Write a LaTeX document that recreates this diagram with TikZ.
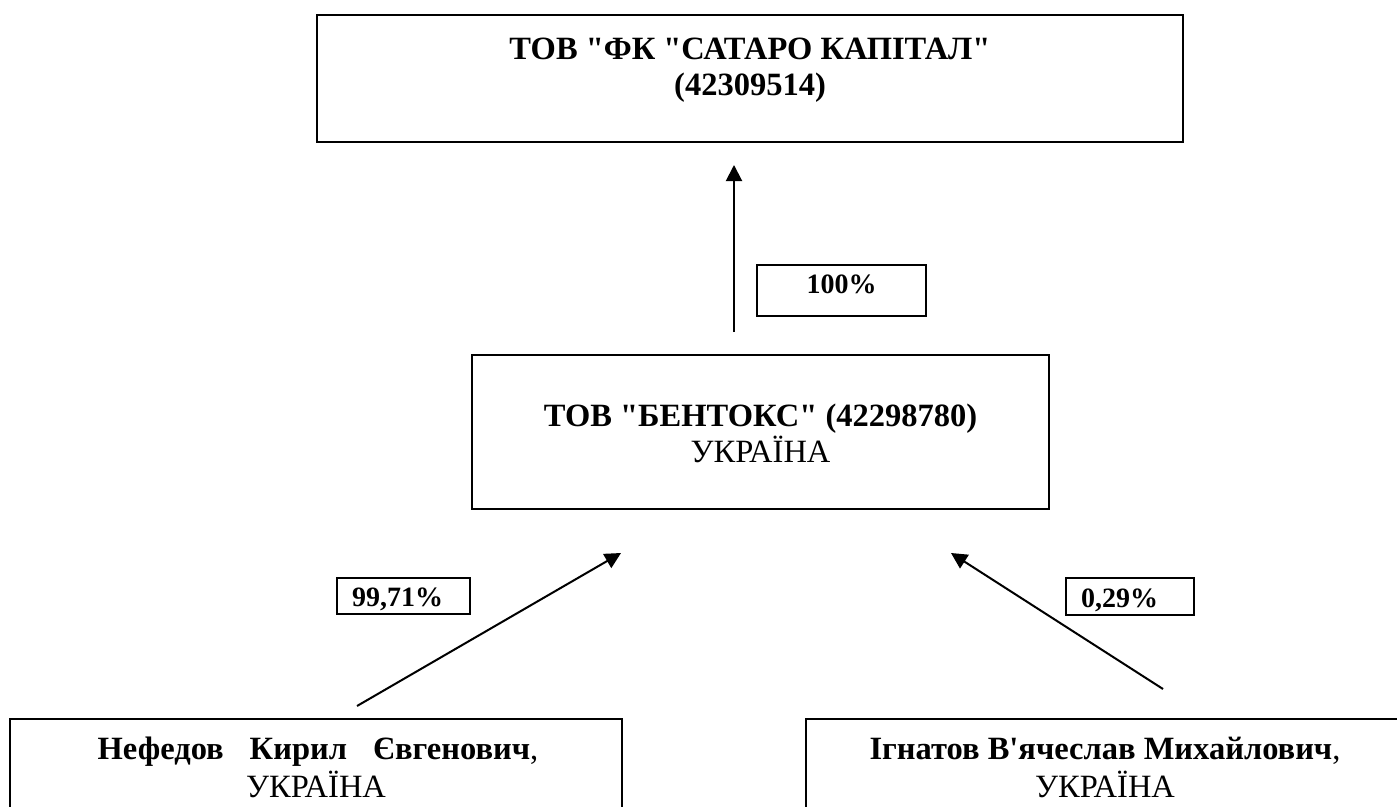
\documentclass[tikz,border=0pt]{standalone}
\usepackage{fontspec}
\setmainfont{Liberation Serif}[Ligatures=TeXOff]
\usetikzlibrary{arrows.meta}
\begin{document}
\begin{tikzpicture}[x=1pt,y=-1pt,
  box/.style={draw, line width=1.8pt, inner sep=0pt},
  pctbox/.style={draw, line width=2pt, inner sep=0pt},
  txt/.style={anchor=base, inner sep=0pt, font=\fontsize{32.5}{37}\selectfont},
  pct/.style={anchor=base west, inner sep=0pt, font=\fontsize{28}{32}\selectfont\bfseries},
  link/.style={line width=2pt, -{Triangle[length=16pt,width=16pt]}}]
\fill[white] (0,0) rectangle (1397,806);
\clip (0,0) rectangle (1397,806);
% boxes
\node[box, minimum width=866pt, minimum height=127pt] (topbox) at (750,78.5) {};
\node[box, minimum width=577pt, minimum height=154pt] (midbox) at (760.5,432) {};
\node[box, minimum width=612pt, minimum height=121pt] (leftbox) at (316,779.5) {};
\node[box, minimum width=604pt, minimum height=121pt] (rightbox) at (1108,779.5) {};
% percentage boxes
\node[pctbox, minimum width=169pt, minimum height=51pt] (p100) at (841.5,290.5) {};
\node[pctbox, minimum width=133pt, minimum height=36pt] (p9971) at (403.5,596) {};
\node[pctbox, minimum width=128pt, minimum height=37pt] (p029) at (1130,596.5) {};
% texts
\node[txt, font=\fontsize{32.5}{37}\selectfont\bfseries] (toptxta) at (750,59) {ТОВ "ФК "САТАРО КАПІТАЛ"};
\node[txt, font=\fontsize{32.5}{37}\selectfont\bfseries] (toptxtb) at (750,95) {(42309514)};
\node[txt, font=\fontsize{32.5}{37}\selectfont\bfseries] (midtxta) at (760.5,426) {ТОВ "БЕНТОКС" (42298780)};
\node[txt] (midtxtb) at (760.5,462) {УКРАЇНА};
\node[txt] (lefttxta) at (318,759) {\textbf{Нефедов\hspace{26pt}Кирил\hspace{26pt}Євгенович},};
\node[txt] (lefttxtb) at (316,797) {УКРАЇНА};
\node[txt] (righttxta) at (1105,759) {\textbf{Ігнатов В'ячеслав Михайлович},};
\node[txt] (righttxtb) at (1105,797) {УКРАЇНА};
\node[pct, anchor=base] (t100) at (841.5,293) {100\%};
\node[pct] (t9971) at (352,606) {99,71\%};
\node[pct] (t029) at (1081,607) {0,29\%};
% connectors
\coordinate (aonestart) at (734,332);
\coordinate (aoneend) at (734,165);
\coordinate (atwostart) at (357,706);
\coordinate (atwoend) at (621,553);
\coordinate (athreestart) at (1163,689);
\coordinate (athreeend) at (951,553);
\draw[link] (aonestart) -- (aoneend);
\draw[link] (atwostart) -- (atwoend);
\draw[link] (athreestart) -- (athreeend);
\end{tikzpicture}
\end{document}
